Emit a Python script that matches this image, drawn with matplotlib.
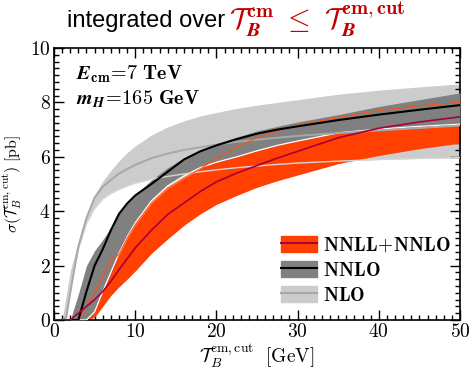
import matplotlib
matplotlib.use("Agg")
import matplotlib.pyplot as plt
from matplotlib.patches import Patch
from matplotlib.lines import Line2D
from matplotlib.ticker import MultipleLocator, FuncFormatter

plt.rcParams['mathtext.fontset'] = 'cm'
plt.rcParams['font.family'] = 'serif'
plt.rcParams['font.serif'] = ['DejaVu Serif']

# values (tau cut in GeV, sigma in pb)
tau = [0, 1, 1.5, 2, 3, 4, 5, 6, 7, 8, 9, 10, 12, 14, 16, 18, 20, 22.5, 25, 27.5, 30, 35, 40, 45, 50]

nlo_hi = [0, 0, 0.9, 1.8, 2.9, 3.8, 4.6, 5.1, 5.5, 5.85, 6.15, 6.4, 6.8, 7.1, 7.32, 7.5, 7.63, 7.78, 7.9, 8.0, 8.1, 8.3, 8.45, 8.57, 8.68]
nlo_mid = [0, 0, 0.1, 1.0, 2.7, 3.75, 4.5, 4.9, 5.15, 5.38, 5.55, 5.7, 5.95, 6.12, 6.25, 6.35, 6.45, 6.55, 6.63, 6.7, 6.77, 6.87, 6.97, 7.06, 7.15]
nlo_lo = [0, 0, 0, 1.2, 2.6, 3.55, 4.1, 4.45, 4.65, 4.8, 4.93, 5.03, 5.18, 5.28, 5.37, 5.45, 5.52, 5.6, 5.66, 5.72, 5.77, 5.84, 5.9, 5.94, 5.97]

nnlo_hi = [0, 0, 0, 0, 0.95, 2.0, 2.55, 2.95, 3.4, 3.92, 4.27, 4.6, 5.15, 5.6, 5.95, 6.25, 6.48, 6.72, 6.95, 7.12, 7.28, 7.55, 7.85, 8.1, 8.35]
nnlo_mid = [0, 0, 0, 0, 0, 1.05, 2.0, 2.6, 3.3, 3.9, 4.28, 4.58, 5.0, 5.45, 5.9, 6.2, 6.42, 6.65, 6.85, 7.0, 7.12, 7.35, 7.55, 7.73, 7.9]
nnlo_lo = [0, 0, 0, 0, 0, 0, 0.3, 1.05, 1.75, 2.45, 3.05, 3.57, 4.38, 4.93, 5.3, 5.6, 5.8, 6.0, 6.22, 6.42, 6.58, 6.88, 7.02, 7.12, 7.2]

nnll_hi = [0, 0, 0, 0, 0, 0.5, 1.0, 1.6, 2.2, 2.4, 3.0, 3.5, 4.3, 4.85, 5.22, 5.55, 5.95, 6.35, 6.7, 6.95, 7.15, 7.45, 7.7, 7.88, 8.0]
nnll_mid = [0, 0, 0, 0, 0.25, 0.5, 0.75, 1.05, 1.42, 1.85, 2.25, 2.65, 3.3, 3.88, 4.3, 4.72, 5.08, 5.4, 5.68, 5.95, 6.2, 6.7, 7.05, 7.28, 7.47]
nnll_lo = [0, 0, 0, 0, 0, 0, 0.1, 0.5, 0.9, 1.22, 1.5, 1.8, 2.45, 2.98, 3.48, 3.9, 4.25, 4.58, 4.88, 5.12, 5.33, 5.75, 6.05, 6.3, 6.5]

labels = [r'$\mathbf{NNLL\!+\!NNLO}$', r'$\mathbf{NNLO}$', r'$\mathbf{NLO}$']

c_nlo, c_nlo_line = '#cccccc', '#a8a8a8'
c_nnlo, c_nnlo_line = '#808080', 'black'
c_nnll, c_nnll_line = '#ff4000', '#a8003c'

fig = plt.figure(figsize=(4.72, 3.71), dpi=100)
ax = fig.add_axes([54/472, 1-320/371, 406/472, 272/371])

ax.fill_between(tau, nlo_lo, nlo_hi, color=c_nlo, lw=0, zorder=1)
ax.fill_between(tau, nnll_lo, nnll_hi, color=c_nnll, lw=0, zorder=2)
ax.fill_between(tau, nnlo_lo, nnlo_hi, color=c_nnlo, lw=0, zorder=3)
ax.plot(tau, nnlo_lo, color='white', lw=0.9, zorder=4)
ax.plot(tau, nlo_lo, color='#d6d6d6', lw=1.0, zorder=5)
ax.plot(tau, nlo_mid, color=c_nlo_line, lw=1.4, zorder=5)
ax.plot(tau, nnll_hi, color='#ff5010', lw=0.8, zorder=6)
ax.plot(tau, nnlo_mid, color=c_nnlo_line, lw=1.5, zorder=7)
ax.plot(tau, nnll_mid, color=c_nnll_line, lw=1.2, zorder=7)

ax.set_xlim(0, 50)
ax.set_ylim(0, 10)
ax.xaxis.set_major_locator(MultipleLocator(10))
ax.xaxis.set_minor_locator(MultipleLocator(1))
ax.yaxis.set_major_locator(MultipleLocator(2))
ax.yaxis.set_minor_locator(MultipleLocator(0.25))
ax.tick_params(which='both', direction='in', top=True, right=True, width=1.0)
ax.tick_params(which='major', length=7, labelsize=14, pad=2.5)
ax.tick_params(which='minor', length=3.5)
ax.xaxis.set_major_formatter(FuncFormatter(lambda v, p: r'$\mathbf{%d}$' % v))
ax.yaxis.set_major_formatter(FuncFormatter(lambda v, p: r'$\mathbf{%d}$' % v))
for s in ax.spines.values():
    s.set_linewidth(1.2)

ax.set_xlabel(r'$\mathcal{T}_B^{\mathrm{cm,cut}}\ \ [\mathrm{GeV}]$', fontsize=14, labelpad=0)
ax.set_ylabel(r'$\sigma(\mathcal{T}_B^{\mathrm{cm,cut}})\ [\mathrm{pb}]$', fontsize=11.5)
ax.yaxis.set_label_coords(-0.073, 0.5)

ax.text(0.055, 0.905, r'$\boldsymbol{E}_{\mathbf{cm}}\!=\!\mathbf{7\ TeV}$', transform=ax.transAxes,
        fontsize=14.5, va='center')
ax.text(0.055, 0.81, r'$\boldsymbol{m}_{\boldsymbol{H}}\!=\!\mathbf{165\ GeV}$', transform=ax.transAxes,
        fontsize=14.5, va='center')

fig.text(67/472, 1-21/371, 'integrated over', family='Liberation Sans', fontsize=17,
         ha='left', va='center')
fig.text(229/472, 1-19/371, r'$\mathcal{T}_{\boldsymbol{B}}^{\mathbf{cm}}\ \leq\ \mathcal{T}_{\boldsymbol{B}}^{\mathbf{cm,cut}}$',
         color='#c00000', fontsize=21, ha='left', va='center')

handles = [(Patch(color=c_nnll), Line2D([], [], color=c_nnll_line, lw=1.5)),
           (Patch(color=c_nnlo), Line2D([], [], color=c_nnlo_line, lw=1.5)),
           (Patch(color=c_nlo), Line2D([], [], color=c_nlo_line, lw=1.5))]
ax.legend(handles, labels, loc='upper left', bbox_to_anchor=(271/472, 1-226/371),
          bbox_transform=fig.transFigure, frameon=False, fontsize=14, borderpad=0,
          handlelength=1.85, handleheight=0.95, labelspacing=0.3, handletextpad=0.3)

fig.savefig('out.png', dpi=100)
